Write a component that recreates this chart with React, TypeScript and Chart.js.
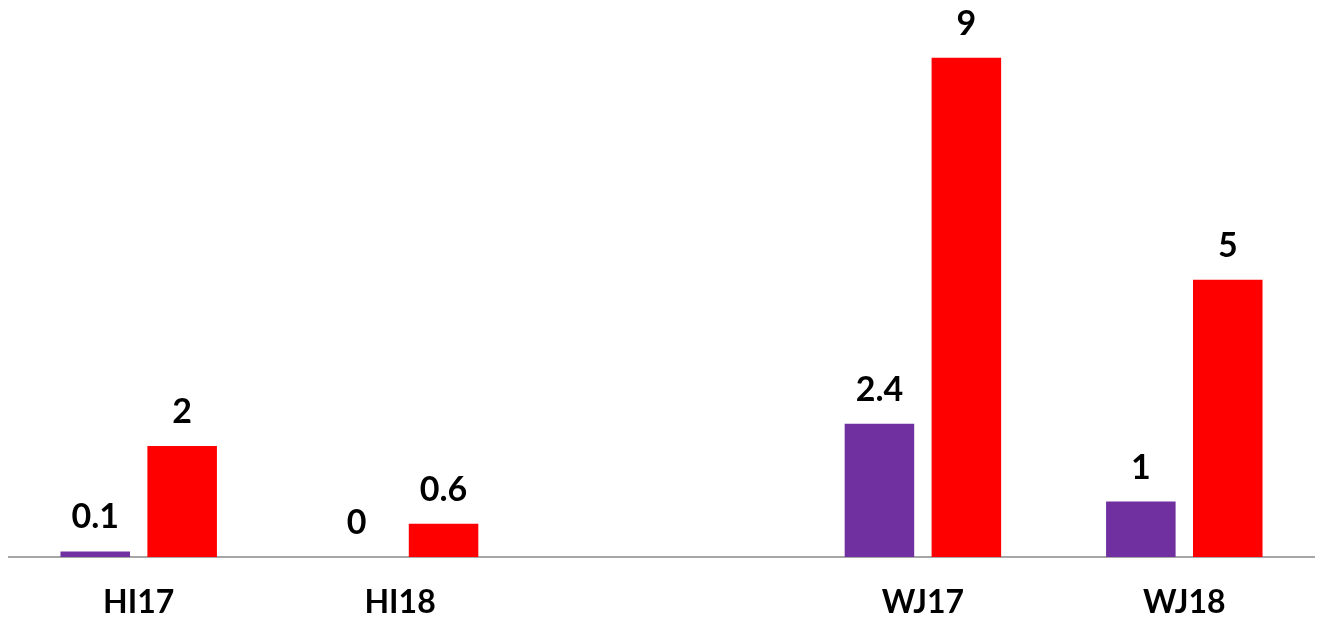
import React, { useEffect, useRef } from "react";
import { Chart, registerables } from "chart.js";

Chart.register(...registerables);

const categories = ["HI17", "HI18", "", "WJ17", "WJ18"];
const purpleValues: (number | null)[] = [0.1, 0, null, 2.4, 1];
const redValues: (number | null)[] = [2, 0.6, null, 9, 5];

const FONT = "Lato, 'Liberation Sans', sans-serif";

const labelPlugin = {
  id: "valueLabels",
  afterDatasetsDraw(chart: any) {
    const ctx = chart.ctx;
    ctx.save();
    ctx.font = `bold 34px ${FONT}`;
    ctx.fillStyle = "#000000";
    ctx.textAlign = "center";
    ctx.textBaseline = "alphabetic";
    chart.data.datasets.forEach((ds: any, i: number) => {
      const meta = chart.getDatasetMeta(i);
      meta.data.forEach((el: any, j: number) => {
        const v = ds.data[j];
        if (v === null || v === undefined) return;
        ctx.fillText(String(v), el.x, el.y - 23);
      });
    });
    ctx.restore();
  },
};

export default function App() {
  const ref = useRef<HTMLCanvasElement | null>(null);
  useEffect(() => {
    if (!ref.current) return;
    const chart = new Chart(ref.current, {
      type: "bar",
      data: {
        labels: categories,
        datasets: [
          {
            label: "A",
            data: purpleValues,
            backgroundColor: "#7030A0",
            categoryPercentage: 0.665,
            barPercentage: 0.8,
          },
          {
            label: "B",
            data: redValues,
            backgroundColor: "#FF0000",
            categoryPercentage: 0.665,
            barPercentage: 0.8,
          },
        ],
      },
      options: {
        animation: false,
        responsive: false,
        maintainAspectRatio: false,
        layout: { padding: { top: 22, left: 0, right: 0, bottom: 0 } },
        plugins: {
          legend: { display: false },
          tooltip: { enabled: false },
        },
        scales: {
          x: {
            grid: { display: false, drawTicks: false },
            border: { display: true, color: "#A6A6A6", width: 2 },
            ticks: {
              padding: 26,
              color: "#000000",
              font: { family: FONT, size: 32, weight: "bold" },
              maxRotation: 0,
              autoSkip: false,
            },
            afterFit: (s: any) => {
              s.height = 63;
            },
          },
          y: {
            display: false,
            min: 0,
            max: 9.5,
          },
        },
      },
      plugins: [labelPlugin],
    });
    return () => chart.destroy();
  }, []);
  return (
    <div style={{ width: 1307, height: 612 }}>
      <canvas ref={ref} width={1307} height={612} style={{ display: "block" }} />
    </div>
  );
}
